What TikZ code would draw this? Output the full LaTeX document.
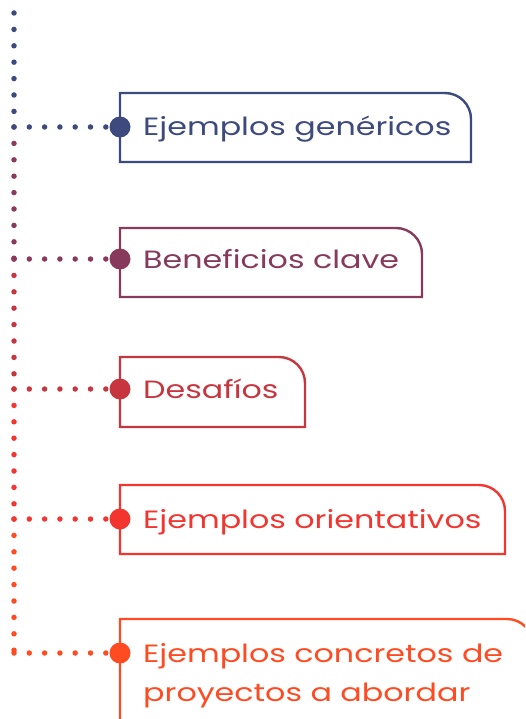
\documentclass[tikz,border=0pt]{standalone}
\usepackage{fontspec}
\setmainfont{Poppins}[FakeStretch=1.27]
\usetikzlibrary{positioning}
\definecolor{azul}{HTML}{3C4A7D}
\definecolor{granate}{HTML}{873A5C}
\definecolor{rojo}{HTML}{C7363F}
\definecolor{rojovivo}{HTML}{F2352F}
\definecolor{naranja}{HTML}{FF4B22}
\tikzset{
  vdots/.style={line width=5.5pt, line cap=round, dash pattern=on 0pt off 16.4pt},
  hdots/.style={line width=5.5pt, line cap=round, dash pattern=on 0pt off 15.3pt},
  punto/.style={circle, fill, inner sep=0pt, minimum size=21pt},
  caja/.style={line width=2.4pt},
  etiqueta/.style={anchor=base west, inner sep=0pt, align=left,
    font=\fontsize{25}{39}\selectfont},
}

\begin{document}
\begin{tikzpicture}[x=1pt, y=-1pt]
\useasboundingbox (0,0) rectangle (525,719);
\clip (0,0) rectangle (525,719);
% Spine
\coordinate (top) at (14,13);
\coordinate (k1) at (14,127);
\coordinate (k2) at (14,259);
\coordinate (k3) at (14,389);
\coordinate (k4) at (14,519);
\coordinate (k5) at (14,653);
% Boxes
\draw [caja, azul] (120,162) -- (120,93) -- (445,93) arc[start angle=-90, end angle=0, radius=26] -- (471,162) -- cycle;
\draw [caja, granate] (120,297) -- (120,228) -- (396,228) arc[start angle=-90, end angle=0, radius=26] -- (422,297) -- cycle;
\draw [caja, rojo] (120,427) -- (120,357) -- (279,357) arc[start angle=-90, end angle=0, radius=26] -- (305,427) -- cycle;
\draw [caja, rojovivo] (120,554) -- (120,485) -- (479,485) arc[start angle=-90, end angle=0, radius=26] -- (505,554) -- cycle;
\draw [caja, naranja] (120,740) -- (120,619) -- (507,619) arc[start angle=-90, end angle=0, radius=26] -- (533,740);
% Dots
\node[punto, azul] (d1) at (120,127) {};
\node[punto, granate] (d2) at (120,259) {};
\node[punto, rojo] (d3) at (120,389) {};
\node[punto, rojovivo] (d4) at (120,519) {};
\node[punto, naranja] (d5) at (120,653) {};
% Labels
\node[etiqueta, azul] (t1) at (143,136) {Ejemplos genéricos};
\node[etiqueta, granate] (t2) at (143,268) {Beneficios clave};
\node[etiqueta, rojo] (t3) at (143,398) {Desafíos};
\node[etiqueta, rojovivo] (t4) at (143,528) {Ejemplos orientativos};
\node[etiqueta, naranja] (t5) at (143,701) {Ejemplos concretos de\\proyectos a abordar};
% Dotted connectors
\draw [vdots, azul] (top) -- (k1);
\draw [vdots, granate] (k1) -- (k2);
\draw [vdots, rojo] (k2) -- (k3);
\draw [vdots, rojovivo] (k3) -- (k4);
\draw [vdots, naranja] (k4) -- (k5);
\draw [hdots, azul] (k1) -- (d1);
\draw [hdots, granate] (k2) -- (d2);
\draw [hdots, rojo] (k3) -- (d3);
\draw [hdots, rojovivo] (k4) -- (d4);
\draw [hdots, naranja] (k5) -- (d5);
\end{tikzpicture}
\end{document}
